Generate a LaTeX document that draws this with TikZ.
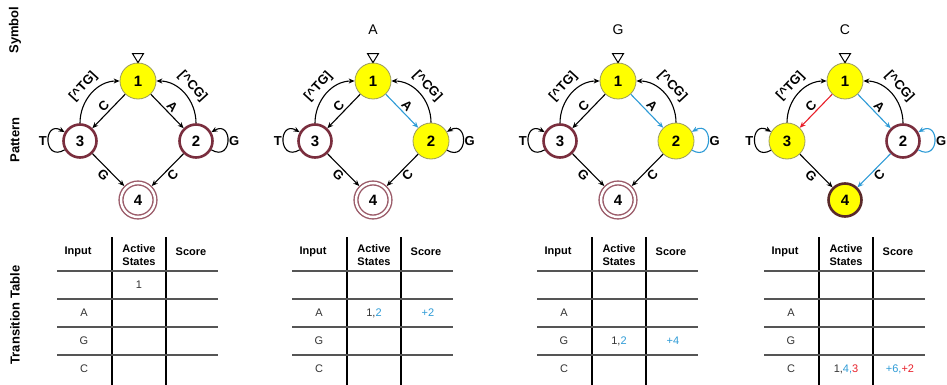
\documentclass[tikz,border=0pt]{standalone}
\usepackage{fontspec}
\setmainfont{Liberation Sans}
\usetikzlibrary{arrows.meta}
\definecolor{stateyellow}{HTML}{FFFF00}
\definecolor{yellowrim}{HTML}{9A9A60}
\definecolor{ringmaroon}{HTML}{7A2E3E}
\definecolor{acceptmaroon}{HTML}{9A5A68}
\definecolor{darkrim}{HTML}{5A2A2A}
\definecolor{edgeblue}{HTML}{2E9BD6}
\definecolor{edgered}{HTML}{E8202A}
\definecolor{rulegray}{HTML}{555555}
\tikzset{
  state/.style={circle, inner sep=0pt, font=\fontsize{15}{15}\selectfont\bfseries},
  idle/.style={state, minimum size=33pt, fill=white, draw=ringmaroon, line width=2.6pt},
  active/.style={state, minimum size=36pt, fill=stateyellow, draw=yellowrim, line width=0.8pt},
  final/.style={state, minimum size=34pt, fill=white, draw=acceptmaroon, line width=1.4pt,
    double=white, double distance=2.4pt, outer sep=2.6pt},
  finalactive/.style={state, minimum size=33pt, fill=stateyellow, draw=darkrim, line width=2.6pt},
  trans/.style={-{Stealth[length=6pt,width=5pt]}, line width=1.1pt},
  selfloop/.style={trans, min distance=25pt},
  lbl/.style={font=\fontsize{13}{13}\selectfont\bfseries, inner sep=1pt},
  rowlabel/.style={font=\fontsize{13}{13}\selectfont\bfseries, rotate=90},
  head/.style={font=\fontsize{11}{13}\selectfont\bfseries, align=center, inner sep=0pt},
  cell/.style={font=\fontsize{11}{11}\selectfont, text=black!80, inner sep=0pt},
  hrule/.style={draw=rulegray, line width=1.2pt},
  vrule/.style={draw=black, line width=1.8pt}
}
\begin{document}
\begin{tikzpicture}[x=1pt, y=-1pt]
\useasboundingbox (0,0) rectangle (947,385);
% row titles
\node[rowlabel] (symbol) at (15,30) {Symbol};
\node[rowlabel] (pattern) at (15,140) {Pattern};
\node[rowlabel] (table) at (15,315) {Transition Table};
% automaton, one per input step
\foreach \p/\x/\two/\three/\four/\ea/\eg/\ec/\ed/\sym in {
    init/138/idle/idle/final/black/black/black/black/{},
    reada/373/active/idle/final/edgeblue/black/black/black/A,
    readg/618/active/idle/final/edgeblue/edgeblue/black/black/G,
    readc/845/idle/active/finalactive/edgeblue/edgeblue/edgered/edgeblue/C}
{
  \node[active] (\p-1) at (\x,81) {1};
  \node[\two] (\p-2) at (\x+58,141) {2};
  \node[\three] (\p-3) at (\x-58,141) {3};
  \node[\four] (\p-4) at (\x,200) {4};
  \node[font=\fontsize{14}{14}\selectfont] (\p-sym) at (\x,30) {\sym};
  \draw[line width=1pt] (\p-1.north) -- ++(-5.5,-9) -- ++(11,0) -- cycle;
  \draw[trans, draw=\ec] (\p-1) -- node[lbl, sloped, above=1pt]{C} (\p-3);
  \draw[trans, draw=\ea] (\p-1) -- node[lbl, sloped, above=1pt]{A} (\p-2);
  \draw[trans] (\p-3) -- node[lbl, sloped, below=1pt]{G} (\p-4);
  \draw[trans, draw=\ed] (\p-2) -- node[lbl, sloped, below=1pt]{C} (\p-4);
  \draw[trans] (\p-3.north) to[out=90, in=180] node[lbl, sloped, above=3pt]{[\^{}TG]} (\p-1.west);
  \draw[trans] (\p-2.north) to[out=90, in=0] node[lbl, sloped, above=3pt]{[\^{}CG]} (\p-1.east);
  \draw[selfloop] (\p-3) to[out=210, in=150] node[lbl, left]{T} (\p-3);
  \draw[selfloop, draw=\eg] (\p-2) to[out=-30, in=30] node[lbl, right]{G} (\p-2);
  % transition table frame
  \draw[vrule] (\x-26,237) -- (\x-26,385) (\x+28,237) -- (\x+28,385);
  \foreach \y in {271,299,327,355}
    \draw[hrule] (\x-81,\y) -- (\x+80,\y);
  \node[head] (\p-input) at (\x-60,252) {Input};
  \node[head] (\p-states) at (\x+1,255) {Active\\States};
  \node[head] (\p-score) at (\x+53,252) {Score};
  \node[cell] (\p-ina) at (\x-54,313) {A};
  \node[cell] (\p-ing) at (\x-54,341) {G};
  \node[cell] (\p-inc) at (\x-54,369) {C};
}
% table entries
\node[cell] (init-act) at (139,285) {1};
\node[cell] (reada-act) at (374,313) {1,\textcolor{edgeblue}{2}};
\node[cell, text=edgeblue] (reada-val) at (428,313) {+2};
\node[cell] (readg-act) at (619,341) {1,\textcolor{edgeblue}{2}};
\node[cell, text=edgeblue] (readg-val) at (673,341) {+4};
\node[cell] (readc-act) at (846,369) {1,\textcolor{edgeblue}{4,}\textcolor{edgered}{3}};
\node[cell] (readc-val) at (900,369) {\textcolor{edgeblue}{+6,}\textcolor{edgered}{+2}};
\end{tikzpicture}
\end{document}
